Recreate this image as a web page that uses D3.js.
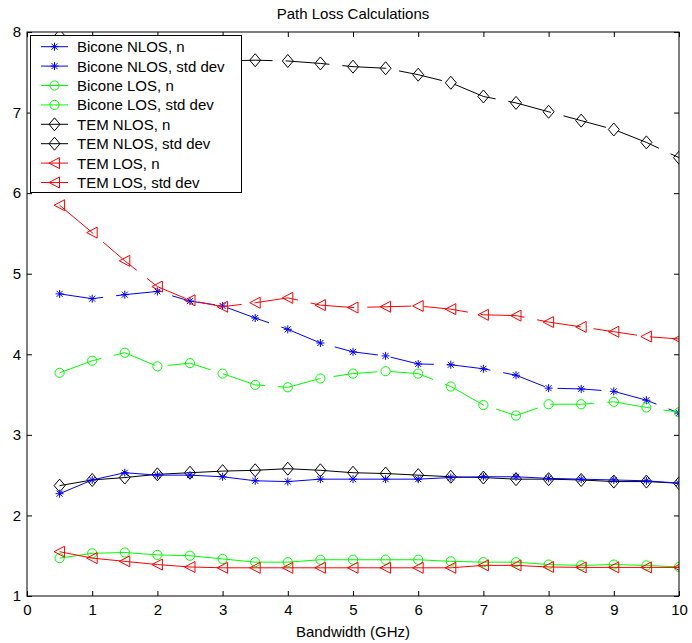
<!DOCTYPE html>
<html><head><meta charset="utf-8">
<script src="https://cdn.jsdelivr.net/npm/d3@7/dist/d3.min.js"></script>
<style>body{margin:0;background:#fff}svg{display:block;font-family:"Liberation Sans",Arial,Helvetica,sans-serif}</style>
</head><body><svg id="c" width="692" height="643"></svg>
<script>
const bandwidth = [0.5,1,1.5,2,2.5,3,3.5,4,4.5,5,5.5,6,6.5,7,7.5,8,8.5,9,9.5,10];
const biconeNlosN   = [2.27,2.44,2.53,2.50,2.50,2.48,2.43,2.42,2.45,2.45,2.45,2.45,2.47,2.48,2.48,2.46,2.45,2.44,2.43,2.40];
const biconeNlosStd = [4.75,4.69,4.74,4.78,4.66,4.60,4.45,4.31,4.14,4.03,3.98,3.88,3.87,3.82,3.74,3.58,3.57,3.54,3.43,3.27];
const biconeLosN    = [1.47,1.53,1.54,1.51,1.50,1.46,1.42,1.42,1.45,1.45,1.45,1.45,1.43,1.42,1.42,1.39,1.38,1.39,1.38,1.36];
const biconeLosStd  = [3.77,3.92,4.02,3.85,3.89,3.76,3.62,3.59,3.70,3.76,3.79,3.76,3.60,3.37,3.24,3.38,3.38,3.41,3.34,3.28];
const temNlosN      = [2.37,2.44,2.47,2.51,2.53,2.55,2.56,2.58,2.56,2.53,2.52,2.50,2.48,2.47,2.45,2.45,2.44,2.42,2.42,2.40];
const temNlosStd    = [7.95,7.86,7.79,7.73,7.68,7.64,7.65,7.64,7.61,7.57,7.55,7.47,7.37,7.20,7.12,7.01,6.90,6.79,6.63,6.44];
const temLosN       = [1.55,1.47,1.43,1.39,1.36,1.35,1.35,1.35,1.35,1.35,1.35,1.35,1.35,1.38,1.38,1.36,1.355,1.355,1.355,1.355];
const temLosStd     = [5.85,5.51,5.16,4.84,4.67,4.59,4.64,4.70,4.61,4.58,4.59,4.60,4.56,4.49,4.48,4.40,4.34,4.28,4.22,4.19];
const xTicks = [0,1,2,3,4,5,6,7,8,9,10];
const yTicks = [1,2,3,4,5,6,7,8];
const legendLabels = ["Bicone NLOS, n","Bicone NLOS, std dev","Bicone LOS, n","Bicone LOS, std dev","TEM NLOS, n","TEM NLOS, std dev","TEM LOS, n","TEM LOS, std dev"];

const series = [
  {name:legendLabels[0], vals:biconeNlosN,   color:"#0000ff", marker:"star",    dashed:false},
  {name:legendLabels[1], vals:biconeNlosStd, color:"#0000ff", marker:"star",    dashed:true},
  {name:legendLabels[2], vals:biconeLosN,    color:"#00ff00", marker:"circle",  dashed:false},
  {name:legendLabels[3], vals:biconeLosStd,  color:"#00ff00", marker:"circle",  dashed:true},
  {name:legendLabels[4], vals:temNlosN,      color:"#000000", marker:"diamond", dashed:false},
  {name:legendLabels[5], vals:temNlosStd,    color:"#000000", marker:"diamond", dashed:true},
  {name:legendLabels[6], vals:temLosN,       color:"#ff0000", marker:"tri",     dashed:false},
  {name:legendLabels[7], vals:temLosStd,     color:"#ff0000", marker:"tri",     dashed:true}
];
const drawOrder = [4,5,0,1,2,3,6,7];

const svg = d3.select("#c");
const L=27, R=679, T=32, B=596;
const x = d3.scaleLinear().domain([0,10]).range([L,R]);
const y = d3.scaleLinear().domain([1,8]).range([B,T]);

svg.append("defs").append("clipPath").attr("id","clip")
  .append("rect").attr("x",L).attr("y",T).attr("width",R-L).attr("height",B-T);

function marker(g, type, cx, cy, color){
  if(type==="circle"){
    g.append("circle").attr("cx",cx).attr("cy",cy).attr("r",4.6)
      .attr("fill","none").attr("stroke",color).attr("stroke-width",1);
  } else if(type==="diamond"){
    g.append("path").attr("d",`M${cx},${cy-6.5}L${cx+5.5},${cy}L${cx},${cy+6.5}L${cx-5.5},${cy}Z`)
      .attr("fill","none").attr("stroke",color).attr("stroke-width",1);
  } else if(type==="tri"){
    g.append("path").attr("d",`M${cx-5.5},${cy}L${cx+5},${cy-5.5}L${cx+5},${cy+5.5}Z`)
      .attr("fill","none").attr("stroke",color).attr("stroke-width",1);
  } else if(type==="star"){
    const s=4, d=3;
    g.append("path").attr("d",`M${cx-s},${cy}L${cx+s},${cy}M${cx},${cy-s}L${cx},${cy+s}M${cx-d},${cy-d}L${cx+d},${cy+d}M${cx-d},${cy+d}L${cx+d},${cy-d}`)
      .attr("fill","none").attr("stroke",color).attr("stroke-width",1);
  }
}

// axes box
const plot = svg.append("g").attr("clip-path","url(#clip)");
const line = d3.line().x((d,i)=>x(bandwidth[i])).y(d=>y(d));
drawOrder.forEach(k=>{
  const s=series[k];
  const g=plot.append("g");
  g.append("path").attr("d",line(s.vals)).attr("fill","none").attr("stroke",s.color)
    .attr("stroke-width",1).attr("stroke-dasharray",s.dashed?"44,13":null);
  s.vals.forEach((v,i)=>marker(g,s.marker,x(bandwidth[i]),y(v),s.color));
});

// axes with inward ticks using d3 axes
const tl=5;
svg.append("g").attr("transform",`translate(0,${B})`)
  .call(d3.axisBottom(x).tickValues(xTicks).tickSize(-tl).tickPadding(8).tickFormat(d3.format("d")))
  .call(g=>{g.select(".domain").remove();g.selectAll("text").attr("font-size",15).attr("font-family","Liberation Sans, Arial, sans-serif").attr("fill","#000");});
svg.append("g").attr("transform",`translate(0,${T})`)
  .call(d3.axisTop(x).tickValues(xTicks).tickSize(-tl).tickFormat(""))
  .call(g=>g.select(".domain").remove());
svg.append("g").attr("transform",`translate(${L},0)`)
  .call(d3.axisLeft(y).tickValues(yTicks).tickSize(-tl).tickPadding(6).tickFormat(d3.format("d")))
  .call(g=>{g.select(".domain").remove();g.selectAll("text").attr("font-size",15).attr("font-family","Liberation Sans, Arial, sans-serif").attr("fill","#000");});
svg.append("g").attr("transform",`translate(${R},0)`)
  .call(d3.axisRight(y).tickValues(yTicks).tickSize(-tl).tickFormat(""))
  .call(g=>g.select(".domain").remove());
svg.append("rect").attr("x",L).attr("y",T).attr("width",R-L).attr("height",B-T)
  .attr("fill","none").attr("stroke","#000").attr("stroke-width",1);

// title and label
svg.append("text").attr("x",(L+R)/2).attr("y",19).attr("text-anchor","middle")
  .attr("font-size",15).text("Path Loss Calculations");
svg.append("text").attr("x",(L+R)/2).attr("y",637).attr("text-anchor","middle")
  .attr("font-size",15).text("Bandwidth (GHz)");

// legend
const lg = svg.append("g");
lg.append("rect").attr("x",30.5).attr("y",35.5).attr("width",211).attr("height",157)
  .attr("fill","#fff").attr("stroke","#000").attr("stroke-width",1);
series.forEach((s,i)=>{
  const cy = 46.7 + i*19.4;
  lg.append("line").attr("x1",41).attr("x2",68).attr("y1",cy).attr("y2",cy)
    .attr("stroke",s.color).attr("stroke-width",1);
  marker(lg,s.marker,54.5,cy,s.color);
  lg.append("text").attr("x",77).attr("y",cy+5.5).attr("font-size",15).text(s.name);
});
</script></body></html>
